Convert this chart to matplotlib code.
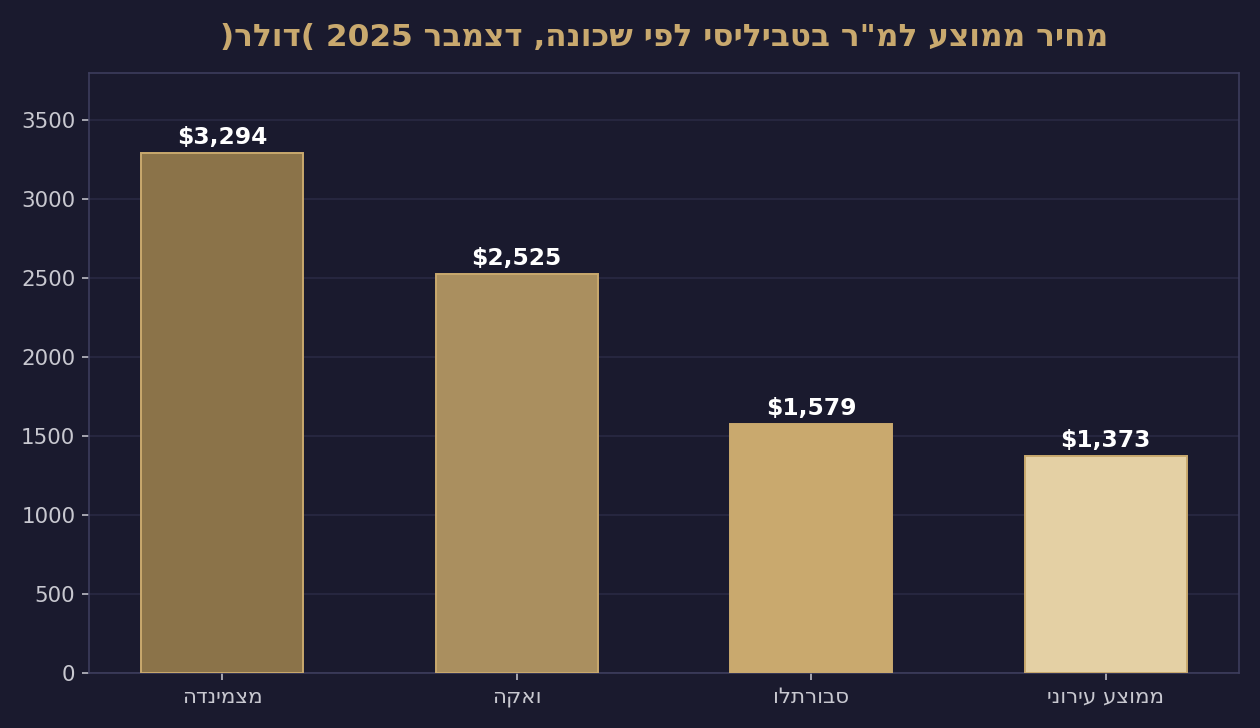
import re

import matplotlib
matplotlib.use("Agg")
import matplotlib.pyplot as plt
import numpy as np

# data
districts = ["מצמינדה", "ואקה", "סבורתלו", "ממוצע עירוני"]
price_per_sqm = [3294, 2525, 1579, 1373]
bar_colors = ["#8B7349", "#AA8F5F", "#C9A96E", "#E4D0A4"]
title = "מחיר ממוצע למ\"ר בטביליסי לפי שכונה, דצמבר 2025 (דולר)"

BG = "#1a1a2e"
SPINE = "#3f3f5f"
GOLD = "#C9A96E"


def rtl(s):
    # matplotlib draws left-to-right: flip the string, keep digit runs readable
    return re.sub(r"\d+", lambda m: m.group(0)[::-1], s[::-1])


plt.rcParams["font.family"] = ["DejaVu Sans"]

fig = plt.figure(figsize=(9, 5.2), dpi=140, facecolor=BG)
ax = fig.add_axes([0.0706, 0.0755, 0.9127, 0.8242])
ax.set_facecolor(BG)

x = np.arange(len(districts))
bars = ax.bar(x, price_per_sqm, width=0.55, color=bar_colors,
              edgecolor=GOLD, linewidth=1.0, zorder=3)

for r, v in zip(bars, price_per_sqm):
    ax.annotate(f"${v:,}", xy=(r.get_x() + r.get_width() / 2, v),
                xytext=(0, 2), textcoords="offset points",
                ha="center", va="bottom", fontsize=12,
                fontweight="bold", color="white", zorder=4)

ax.set_xticks(x)
ax.set_xticklabels([rtl(d) for d in districts])
ax.set_ylim(0, 3800)
ax.set_yticks(np.arange(0, 3501, 500))
ax.tick_params(colors="#c8c8d0", labelsize=11)
ax.grid(axis="y", color="#2a2a44", linewidth=0.8, zorder=0)
for s in ax.spines.values():
    s.set_color(SPINE)

ax.set_title(rtl(title), fontsize=16, fontweight="bold", color=GOLD, pad=14)

fig.savefig("out.png", dpi=140, facecolor=BG)
